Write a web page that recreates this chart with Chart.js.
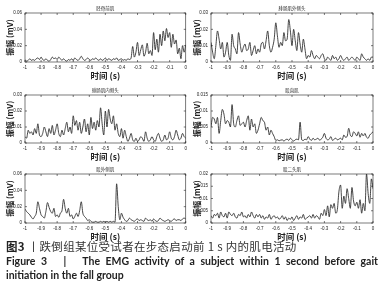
<!DOCTYPE html>
<html><head><meta charset="utf-8">
<script src="https://cdn.jsdelivr.net/npm/chart.js@4.4.0/dist/chart.umd.min.js"></script>
<style>
html,body{margin:0;padding:0;background:#fff;width:381px;height:295px;overflow:hidden;position:relative;}
canvas{position:absolute;}
.cap{position:absolute;left:6px;color:#222;}
</style></head><body>
<canvas id="c0"></canvas><canvas id="c1"></canvas><canvas id="c2"></canvas>
<canvas id="c3"></canvas><canvas id="c4"></canvas><canvas id="c5"></canvas>
<div class="cap" style="top:238px;font:11.5px 'Noto Sans CJK SC';letter-spacing:0.3px;color:#333;white-space:nowrap;"><b style="color:#222">图3</b> 丨跌倒组某位受试者在步态启动前 1 s 内的肌电活动</div>
<div class="cap" style="top:255px;width:372px;font:bold 10.5px Lato;text-align:justify;text-align-last:justify;">Figure 3 &nbsp;&nbsp;| &nbsp;&nbsp;The EMG activity of a subject within 1 second before gait</div>
<div class="cap" style="top:269px;font:bold 10.5px Lato;white-space:nowrap;">initiation in the fall group</div>
<script>
const titles = ['胫骨前肌','腓肠肌外侧头','腓肠肌内侧头','股直肌','股外侧肌','股二头肌'];
const times = [
-1,-0.99,-0.98,-0.97,-0.96,-0.95,-0.94,-0.93,-0.92,-0.91,
-0.9,-0.89,-0.88,-0.87,-0.86,-0.85,-0.84,-0.83,-0.82,-0.81,
-0.8,-0.79,-0.78,-0.77,-0.76,-0.75,-0.74,-0.73,-0.72,-0.71,
-0.7,-0.69,-0.68,-0.67,-0.66,-0.65,-0.64,-0.63,-0.62,-0.61,
-0.6,-0.59,-0.58,-0.57,-0.56,-0.55,-0.54,-0.53,-0.52,-0.51,
-0.5,-0.49,-0.48,-0.47,-0.46,-0.45,-0.44,-0.43,-0.42,-0.41,
-0.4,-0.39,-0.38,-0.37,-0.36,-0.35,-0.34,-0.33,-0.32,-0.31,
-0.3,-0.29,-0.28,-0.27,-0.26,-0.25,-0.24,-0.23,-0.22,-0.21,
-0.2,-0.19,-0.18,-0.17,-0.16,-0.15,-0.14,-0.13,-0.12,-0.11,
-0.1,-0.09,-0.08,-0.07,-0.06,-0.05,-0.04,-0.03,-0.02,-0.01,
0];
const tibialisAnterior = [
0.003,0.001,0.002,0.004,0.002,0.003,0.002,0.004,0.005,0.003,
0.006,0.003,0.002,0.004,0.002,0.001,0.003,0.006,0.004,0.005,
0.003,0.006,0.004,0.002,0.004,0.002,0.001,0.003,0.002,0.004,
0.002,0.005,0.003,0.002,0.004,0.007,0.004,0.002,0.003,0.005,
0.003,0.002,0.004,0.003,0.005,0.003,0.002,0.004,0.002,0.003,
0.005,0.002,0.004,0.003,0.002,0.004,0.003,0.005,0.002,0.003,
0.004,0.002,0.003,0.002,0.004,0.003,0.005,0.019,0.006,0.012,
0.024,0.008,0.015,0.021,0.007,0.012,0.023,0.010,0.014,0.008,
0.036,0.015,0.028,0.012,0.034,0.020,0.038,0.026,0.041,0.030,
0.036,0.018,0.034,0.022,0.027,0.010,0.017,0.004,0.020,0.012,
0.021];
const gastrocLateral = [
0.012,0.006,0.002,0.010,0.019,0.014,0.008,0.012,0.003,0.006,
0.012,0.004,0.001,0.017,0.010,0.008,0.005,0.018,0.011,0.006,
0.009,0.011,0.007,0.008,0.012,0.004,0.007,0.010,0.005,0.008,
0.006,0.011,0.012,0.008,0.013,0.019,0.010,0.006,0.009,0.014,
0.024,0.016,0.009,0.012,0.010,0.018,0.013,0.014,0.026,0.019,
0.010,0.020,0.013,0.007,0.018,0.011,0.006,0.014,0.008,0.002,
0.004,0.003,0.007,0.004,0.002,0.004,0.003,0.002,0.004,0.005,
0.002,0.001,0.003,0.002,0.001,0.004,0.002,0.003,0.001,0.002,
0.004,0.002,0.001,0.002,0.003,0.001,0.002,0.003,0.002,0.001,
0.003,0.002,0.001,0.005,0.003,0.002,0.001,0.002,0.001,0.003,
0.003];
const gastrocMedial = [
0.004,0.003,0.008,0.006,0.007,0.005,0.009,0.006,0.012,0.005,
0.004,0.006,0.010,0.007,0.004,0.009,0.006,0.011,0.005,0.008,
0.012,0.006,0.004,0.008,0.005,0.009,0.013,0.007,0.010,0.006,
0.017,0.011,0.014,0.008,0.013,0.006,0.010,0.015,0.007,0.012,
0.005,0.016,0.009,0.013,0.008,0.014,0.010,0.022,0.012,0.005,
0.020,0.010,0.021,0.015,0.012,0.017,0.008,0.012,0.006,0.004,
0.009,0.003,0.008,0.004,0.001,0.003,0.006,0.002,0.001,0.003,
0.001,0.002,0.004,0.003,0.001,0.007,0.003,0.001,0.002,0.004,
0.002,0.001,0.004,0.006,0.003,0.001,0.002,0.005,0.002,0.003,
0.007,0.003,0.002,0.004,0.008,0.005,0.002,0.003,0.006,0.004,
0.003];
const rectusFemoris = [
0.005,0.008,0.0075,0.006,0.008,0.003,0.007,0.0105,0.009,0.006,
0.007,0.0065,0.005,0.012,0.006,0.005,0.007,0.0085,0.0055,0.006,
0.0065,0.005,0.007,0.0085,0.004,0.0075,0.005,0.006,0.003,0.004,
0.006,0.008,0.007,0.0065,0.004,0.005,0.0025,0.004,0.003,0.002,
0.0008,0.001,0.0007,0.0009,0.001,0.0006,0.001,0.0012,0.0008,0.0015,
0.001,0.0006,0.001,0.0012,0.001,0.0065,0.001,0.0008,0.0012,0.001,
0.002,0.0012,0.0008,0.0015,0.001,0.0012,0.0015,0.0009,0.0012,0.0018,
0.003,0.0015,0.001,0.0012,0.002,0.0008,0.0012,0.0015,0.001,0.0012,
0.0015,0.001,0.0025,0.0018,0.002,0.0046,0.0025,0.002,0.0035,0.003,
0.0022,0.0035,0.0018,0.003,0.0022,0.003,0.0018,0.0015,0.0025,0.003,
0.0035];
const vastusLateralis = [
0.017,0.014,0.012,0.010,0.007,0.005,0.008,0.012,0.026,0.018,
0.010,0.008,0.006,0.014,0.025,0.019,0.014,0.012,0.018,0.008,
0.010,0.007,0.012,0.015,0.029,0.018,0.012,0.018,0.008,0.010,
0.005,0.008,0.012,0.008,0.015,0.026,0.012,0.008,0.006,0.003,
0.004,0.002,0.001,0.001,0.002,0.001,0.001,0.002,0.001,0.002,
0.001,0.002,0.001,0.002,0.001,0.002,0.001,0.048,0.020,0.004,
0.012,0.007,0.004,0.002,0.003,0.006,0.004,0.003,0.002,0.004,
0.005,0.003,0.004,0.003,0.002,0.006,0.004,0.003,0.004,0.002,
0.005,0.003,0.002,0.003,0.006,0.004,0.003,0.002,0.003,0.004,
0.003,0.002,0.004,0.005,0.003,0.004,0.004,0.003,0.005,0.006,
0.005];
const bicepsFemoris = [
0.003,0.002,0.0035,0.003,0.004,0.002,0.0045,0.003,0.0025,0.004,
0.002,0.0045,0.0035,0.003,0.004,0.0025,0.002,0.0035,0.003,0.0045,
0.0025,0.003,0.002,0.0035,0.0025,0.0045,0.003,0.002,0.0035,0.0025,
0.0035,0.002,0.003,0.0015,0.0025,0.002,0.0035,0.0015,0.0025,0.003,
0.002,0.0025,0.0015,0.002,0.003,0.0015,0.0025,0.001,0.002,0.0015,
0.0025,0.001,0.002,0.003,0.0015,0.0025,0.002,0.0035,0.0015,0.002,
0.0025,0.003,0.002,0.0035,0.002,0.003,0.0025,0.0015,0.004,0.003,
0.0055,0.003,0.007,0.0025,0.0075,0.006,0.008,0.004,0.0055,0.013,
0.0155,0.006,0.011,0.008,0.014,0.010,0.006,0.0145,0.009,0.007,
0.0085,0.006,0.0095,0.004,0.008,0.005,0.020,0.012,0.008,0.018,
0.014];
const xTicks = [-1,-0.9,-0.8,-0.7,-0.6,-0.5,-0.4,-0.3,-0.2,-0.1,0];
const xTickLabels = ['-1','-0.9','-0.8','-0.7','-0.6','-0.5','-0.4','-0.3','-0.2','-0.1','0'];
const yTicksA = [0,0.02,0.04,0.06], yLabelsA = ['0','0.02','0.04','0.06'];
const yTicksB = [0,0.01,0.02,0.03], yLabelsB = ['0','0.01','0.02','0.03'];
const yTicksC = [0,0.005,0.01,0.015], yLabelsC = ['0','0.005','0.01','0.015'];
const yTicksD = [0,0.005,0.01,0.015,0.02], yLabelsD = ['0','0.005','0.01','0.015','0.02'];
const xTitle = '时间 (s)', yTitle = '振幅 (mV)';

const series = [tibialisAnterior, gastrocLateral, gastrocMedial, rectusFemoris, vastusLateralis, bicepsFemoris];
const yTicksAll = [yTicksA, yTicksB, yTicksB, yTicksC, yTicksA, yTicksD];
const yLabelsAll = [yLabelsA, yLabelsB, yLabelsB, yLabelsC, yLabelsA, yLabelsD];

// layout of panels
const cols = [{left:0, width:190, yW:25, padR:3, titlePad:5}, {left:190, width:191, yW:21, padR:8, titlePad:2}];
const rows = [{top:0, h:82}, {top:82, h:81}, {top:161, h:82}];

const boxPlugin = {
  id:'box',
  afterDraw(chart, args, opts){
    const {ctx, chartArea:a} = chart;
    const x = chart.scales.x, y = chart.scales.y;
    ctx.save();
    ctx.strokeStyle = '#222'; ctx.lineWidth = 0.6;
    ctx.strokeRect(a.left, a.top, a.right - a.left, a.bottom - a.top);
    ctx.beginPath();
    x.ticks.forEach(t => { const p = x.getPixelForValue(t.value);
      ctx.moveTo(p, a.bottom); ctx.lineTo(p, a.bottom - 2);
      ctx.moveTo(p, a.top); ctx.lineTo(p, a.top + 2); });
    y.ticks.forEach(t => { const p = y.getPixelForValue(t.value);
      ctx.moveTo(a.left, p); ctx.lineTo(a.left + 2, p);
      ctx.moveTo(a.right, p); ctx.lineTo(a.right - 2, p); });
    ctx.stroke();
    ctx.fillStyle = '#333';
    ctx.font = '4.5px "Noto Sans CJK SC"';
    ctx.textAlign = 'center'; ctx.textBaseline = 'bottom';
    ctx.fillText(opts.text, (a.left + a.right) / 2, a.top - 2);
    ctx.restore();
  }
};

series.forEach((vals, i) => {
  const col = cols[i % 2], row = rows[Math.floor(i / 2)];
  const cv = document.getElementById('c' + i);
  cv.width = col.width; cv.height = row.h;
  cv.style.left = col.left + 'px'; cv.style.top = row.top + 'px';
  const yt = yTicksAll[i], yl = yLabelsAll[i];
  new Chart(cv, {
    type: 'line',
    data: { datasets: [{ data: times.map((t, k) => ({x: t, y: vals[k]})),
      borderColor: '#262626', borderWidth: 0.85, pointRadius: 0, cubicInterpolationMode: 'monotone' }] },
    options: {
      responsive: false, animation: false,
      layout: { padding: { top: 13, right: col.padR, left: 0, bottom: 0 } },
      plugins: { legend: {display: false}, tooltip: {enabled: false}, box: {text: titles[i]} },
      scales: {
        x: { type: 'linear', min: -1, max: 0,
          afterBuildTicks: s => { s.ticks = xTicks.map(v => ({value: v})); },
          afterFit: s => { s.height = 20; },
          ticks: { callback: (v, k) => xTickLabels[k], font: {size: 4.5, family: 'Liberation Sans'}, color: '#222', padding: 3, maxRotation: 0, autoSkip: false },
          grid: { display: false, drawTicks: false, tickLength: 0 }, border: { display: false },
          title: { display: true, text: xTitle, font: {size: 8.5, weight: 'bold', family: 'Noto Sans CJK SC'}, color: '#222', padding: {top: 0, bottom: 1} } },
        y: { type: 'linear', min: 0, max: yt[yt.length - 1],
          afterBuildTicks: s => { s.ticks = yt.map(v => ({value: v})); },
          afterFit: s => { s.width = col.yW; },
          ticks: { callback: (v, k) => yl[k], font: {size: 4.5, family: 'Liberation Sans'}, color: '#222', padding: 3 },
          grid: { display: false, drawTicks: false, tickLength: 0 }, border: { display: false },
          title: { display: true, text: yTitle, font: {size: 8, weight: 'bold', family: 'Noto Sans CJK SC'}, color: '#222', padding: {top: col.titlePad, bottom: 0} } }
      }
    },
    plugins: [boxPlugin]
  });
});
</script>
</body></html>
